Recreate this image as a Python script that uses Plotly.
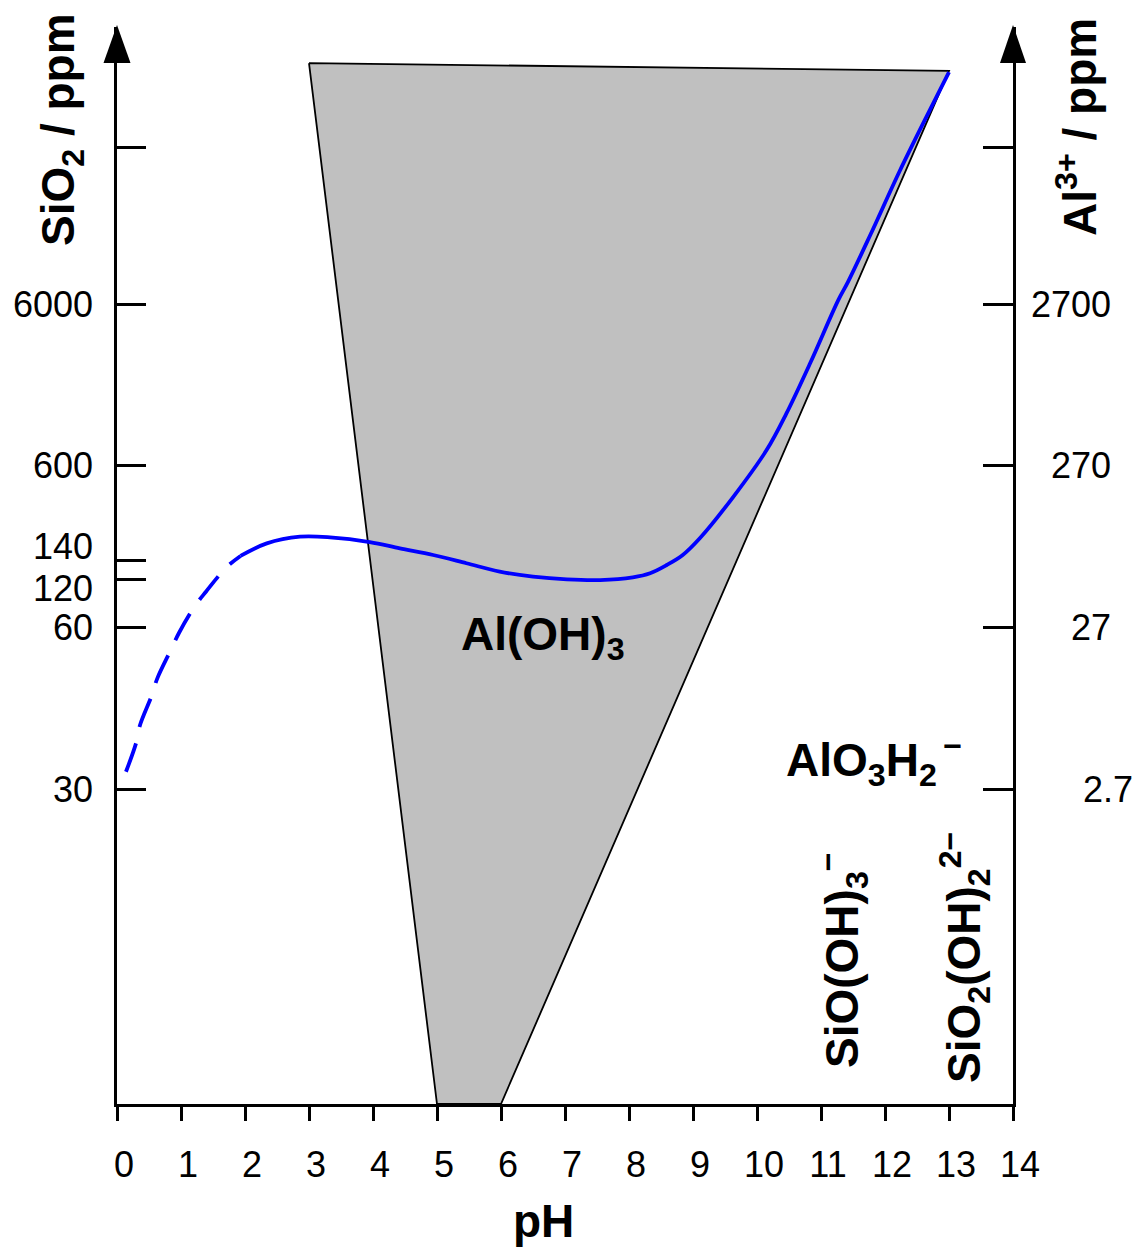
import plotly.graph_objects as go

# ---------------- data ----------------
# x: pH ; y: log10 of Al3+ concentration in ppm (right axis scale)
ph_ticks = list(range(0, 15))

al_tick_y = [0.431, 1.431, 2.431, 3.431, 4.40]
al_tick_text = ["2.7", "27", "270", "2700", ""]

sio2_tick_y = [0.431, 1.431, 1.727, 1.842, 2.431, 3.431, 4.40]
sio2_tick_text = ["30", "60", "120", "140", "600", "6000", ""]

# Al(OH)3 stability field (grey polygon)
field_ph = [3.0, 13.0, 6.0, 5.0, 3.0]
field_y = [4.922, 4.873, -1.517, -1.517, 4.922]

# SiO2 solubility curve: dashed (extrapolated) part and solid part
ph_dash = [0.14, 0.30, 0.36, 0.54, 0.63, 0.84, 0.97, 1.22, 1.39, 1.71, 1.93]
y_dash = [0.538, 0.718, 0.827, 1.007, 1.116, 1.291, 1.398, 1.565, 1.652, 1.803, 1.873]

ph_solid = [1.93, 2.34, 2.86, 3.33, 3.95, 4.42, 4.94, 5.46, 5.98, 6.50, 7.03, 7.55,
            8.06, 8.33, 8.59, 8.84, 9.11, 9.63, 10.15, 10.46, 10.83, 11.27, 11.42,
            11.77, 12.23, 12.70, 13.0]
y_solid = [1.873, 1.951, 1.992, 1.988, 1.959, 1.920, 1.879, 1.828, 1.776, 1.745, 1.728, 1.724,
           1.741, 1.766, 1.817, 1.879, 1.984, 2.239, 2.528, 2.755, 3.065, 3.456, 3.567,
           3.858, 4.254, 4.631, 4.866]

Y_RANGE = [-1.517, 5.145]

# ---------------- layout geometry ----------------
W, H = 1142, 1247
L, R, T, B = 117, 129, 27, 143
PW, PH = W - L - R, H - T - B

def px_x(px):
    return (px - L) / PW

def px_y(py):
    return (T + PH - py) / PH

FONT = "Liberation Sans, Arial, Helvetica, sans-serif"
TICK_SIZE = 36
LABEL_SIZE = 46

fig = go.Figure()

fig.add_trace(go.Scatter(
    x=field_ph, y=field_y, mode="lines", fill="toself",
    fillcolor="#c0c0c0", line=dict(color="black", width=1.8),
    hoverinfo="skip", showlegend=False))

fig.add_trace(go.Scatter(
    x=ph_dash, y=y_dash, mode="lines",
    line=dict(color="#0000ff", width=3.8, dash="30px,17px", shape="spline"),
    showlegend=False))

fig.add_trace(go.Scatter(
    x=ph_solid, y=y_solid, mode="lines",
    line=dict(color="#0000ff", width=3.8, shape="spline"),
    showlegend=False))

# dummy trace so that the right axis is drawn
fig.add_trace(go.Scatter(x=[None], y=[None], yaxis="y2", showlegend=False,
                         hoverinfo="skip"))

annotations = []
# left (SiO2) tick labels
sio2_label_shift = {"140": 14, "120": -9}
for val, txt in zip(sio2_tick_y, sio2_tick_text):
    if not txt:
        continue
    annotations.append(dict(
        x=px_x(94), xref="paper", y=val, yref="y", text=txt, showarrow=False,
        xanchor="right", yanchor="middle", yshift=sio2_label_shift.get(txt, 0),
        borderpad=0, font=dict(family=FONT, size=TICK_SIZE, color="black")))

# right (Al3+) tick labels
al_label_right_px = [1134, 1112, 1112, 1112]
for val, txt, rp in zip(al_tick_y, al_tick_text, al_label_right_px):
    annotations.append(dict(
        x=px_x(rp), xref="paper", y=val, yref="y", text=txt, showarrow=False,
        xanchor="right", yanchor="middle", borderpad=0,
        font=dict(family=FONT, size=TICK_SIZE, color="black")))

def label(text, cx, cy, angle=0, size=LABEL_SIZE):
    annotations.append(dict(
        x=px_x(cx), y=px_y(cy), xref="paper", yref="paper", text=text,
        showarrow=False, xanchor="center", yanchor="middle", textangle=angle,
        borderpad=0, font=dict(family=FONT, size=size, color="black", weight="bold")))

label("SiO<sub>2</sub> / ppm", 61, 130, -90)
label("Al<sup>3+</sup> / ppm", 1077, 127, -90)
label("pH", 543, 1221)
label("Al(OH)<sub>3</sub>", 543, 638)
label("AlO<sub>3</sub>H<sub>2</sub><sup>\u2009−</sup>", 874, 760)
label("SiO(OH)<sub>3</sub><sup>−</sup>", 842, 960, -90)
label("SiO<sub>2</sub>(OH)<sub>2</sub><sup>2−</sup>", 964, 958, -90)

# arrow heads on the two vertical axes
def tri(cx, tip, base, half):
    return (f"M {px_x(cx)},{px_y(tip)} L {px_x(cx - half)},{px_y(base)} "
            f"L {px_x(cx + half)},{px_y(base)} Z")

shapes = [
    dict(type="path", xref="paper", yref="paper", path=tri(117, 25, 63, 13.5),
         fillcolor="black", line=dict(color="black", width=0)),
    dict(type="path", xref="paper", yref="paper", path=tri(1013, 25, 63, 13),
         fillcolor="black", line=dict(color="black", width=0)),
]

fig.update_layout(
    width=W, height=H,
    margin=dict(l=L, r=R, t=T, b=B, pad=0),
    paper_bgcolor="white", plot_bgcolor="white",
    font=dict(family=FONT, size=TICK_SIZE, color="black"),
    showlegend=False,
    xaxis=dict(
        range=[0, 14], tickvals=ph_ticks, ticktext=[str(v) for v in ph_ticks],
        ticks="outside", ticklen=14, tickwidth=3, tickcolor="black",
        showline=True, linewidth=3, linecolor="black",
        showgrid=False, zeroline=False, ticklabelshift=7, ticklabelstandoff=13,
        tickfont=dict(family=FONT, size=TICK_SIZE, color="black")),
    yaxis=dict(
        range=Y_RANGE, tickvals=sio2_tick_y, showticklabels=False,
        ticks="inside", ticklen=29, tickwidth=3, tickcolor="black",
        showline=True, linewidth=3, linecolor="black",
        showgrid=False, zeroline=False),
    yaxis2=dict(
        range=Y_RANGE, overlaying="y", side="right", tickvals=al_tick_y,
        showticklabels=False, ticks="inside", ticklen=30, tickwidth=3,
        tickcolor="black", showline=True, linewidth=3, linecolor="black",
        showgrid=False, zeroline=False),
    annotations=annotations,
    shapes=shapes,
)

fig.write_html("out.html", config={"displayModeBar": False})
